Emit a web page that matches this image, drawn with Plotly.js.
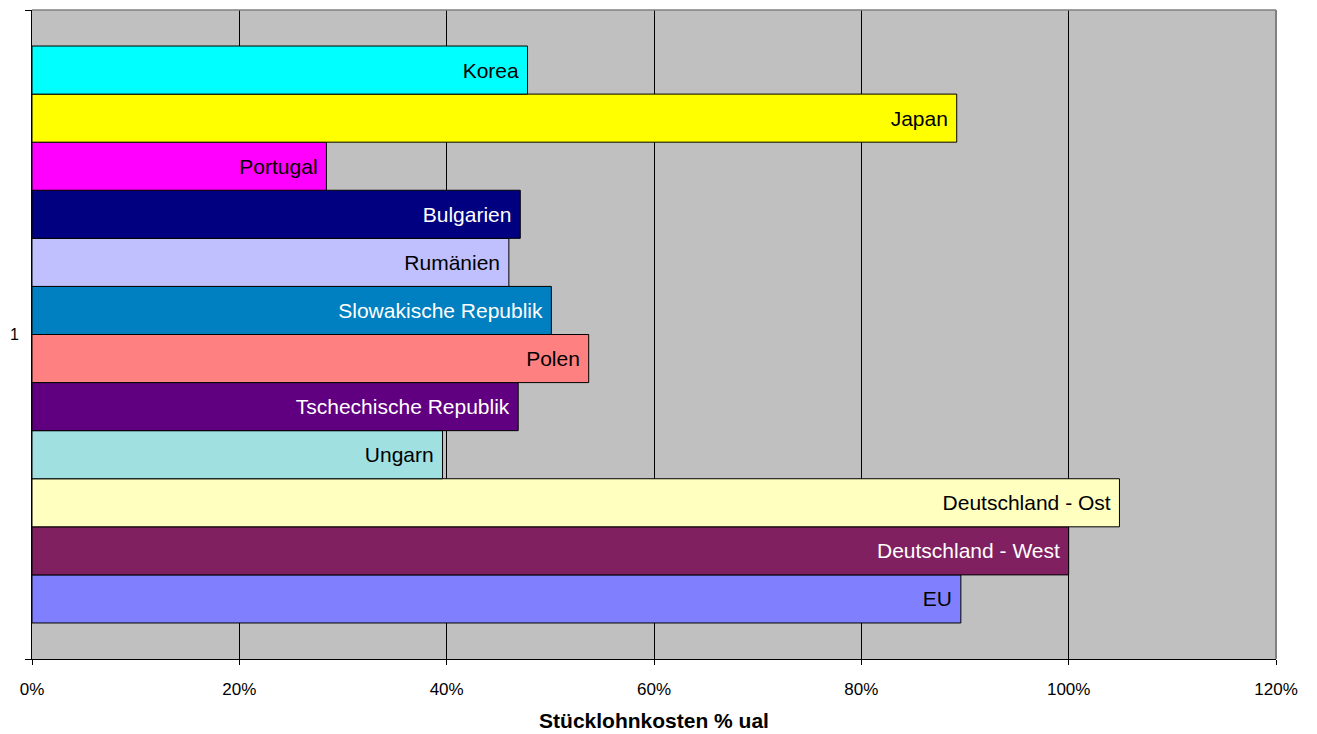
<!DOCTYPE html>
<html>
<head>
<meta charset="utf-8">
<script src="https://cdn.plot.ly/plotly-3.0.1.min.js"></script>
<style>html,body{margin:0;padding:0;background:#fff;}#chart{width:1317px;height:734px;}</style>
</head>
<body>
<div id="chart"></div>
<script>
// bottom-to-top order
const countries = ["EU", "Deutschland - West", "Deutschland - Ost", "Ungarn", "Tschechische Republik", "Polen", "Slowakische Republik", "Rumänien", "Bulgarien", "Portugal", "Japan", "Korea"];
const values = [0.896, 1.000, 1.049, 0.396, 0.469, 0.537, 0.501, 0.460, 0.471, 0.284, 0.892, 0.478];
const colors = ["#8080FF", "#802060", "#FFFFC0", "#A0E0E0", "#600080", "#FF8080", "#0080C0", "#C0C0FF", "#000080", "#FF00FF", "#FFFF00", "#00FFFF"];
const textColors = ["#000", "#fff", "#000", "#000", "#fff", "#000", "#fff", "#000", "#fff", "#000", "#000", "#000"];
const category = ["1"];
const xTicks = [0, 0.2, 0.4, 0.6, 0.8, 1.0, 1.2];
const xTickLabels = ["0%", "20%", "40%", "60%", "80%", "100%", "120%"];

const traces = countries.map((c, i) => ({
  type: "bar",
  orientation: "h",
  name: c,
  y: category,
  x: [values[i]],
  text: [c + "\u00a0"],
  textposition: "inside",
  insidetextanchor: "end",
  constraintext: "none",
  textfont: {family: "Liberation Sans, Arial, sans-serif", size: 21, color: textColors[i]},
  marker: {color: colors[i], line: {color: "#000", width: 1}},
  hoverinfo: "x+name"
}));

const layout = {
  width: 1317, height: 734,
  margin: {l: 32, r: 41, t: 10, b: 75},
  paper_bgcolor: "#fff",
  plot_bgcolor: "#C0C0C0",
  showlegend: false,
  barmode: "group",
  bargap: 0.111,
  bargroupgap: 0,
  font: {family: "Liberation Sans, Arial, sans-serif", color: "#000"},
  xaxis: {
    range: [0, 1.2],
    tickvals: xTicks,
    ticktext: xTickLabels,
    tickfont: {size: 17},
    ticklabelstandoff: 10,
    showgrid: true, gridcolor: "#000", gridwidth: 1,
    zeroline: false,
    showline: true, linecolor: "#000", linewidth: 1,
    ticks: "outside", ticklen: 5, tickcolor: "#000",
    title: {text: "<b>Stücklohnkosten % ual</b>", font: {size: 21}, standoff: 14},
    fixedrange: true
  },
  yaxis: {
    type: "category",
    tickson: "boundaries",
    ticks: "outside", ticklen: 6, tickcolor: "#000",
    tickfont: {size: 16},
    ticklabelstandoff: 9,
    showline: true, linecolor: "#000", linewidth: 1,
    showgrid: false, zeroline: false,
    fixedrange: true
  },
  shapes: [
    {type: "line", xref: "paper", yref: "paper", x0: 0, x1: 1, y0: 1, y1: 1, line: {color: "#808080", width: 1.5}},
    {type: "line", xref: "paper", yref: "paper", x0: 1, x1: 1, y0: 0, y1: 1, line: {color: "#808080", width: 2}}
  ]
};

Plotly.newPlot("chart", traces, layout, {displayModeBar: false, staticPlot: true});
</script>
</body>
</html>
